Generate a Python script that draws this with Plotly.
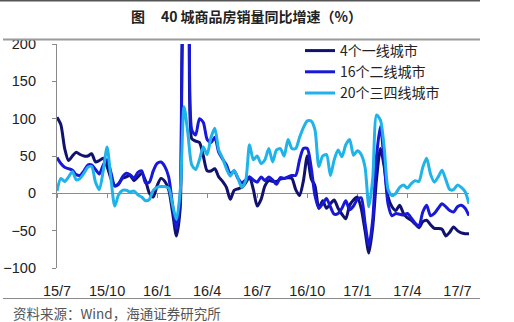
import plotly.graph_objects as go

# Weekly year-on-year growth (%), 2015/7 - 2017/8
tier1 = [102, 92, 60, 44, 50, 55, 52, 50, 50, 53, 42, 44, 47, 36, 20, 10, 13, 20, 22, 24,
         17, 22, 27, 17, 0, -5, 10, 20, 16, 5, -25, -57, -20, 250, 260, 73, 70, 68, 50, 30,
         30, 33, 22, 16, 8, -8, 4, 6, 8, 14, 22, 5, -17, -8, 10, 17, 16, 16, 19, 20,
         21, 20, 5, -3, 17, 50, 20, 10, -20, -10, -20, -14, -9, -20, -28, -34, -16, -9, -5, -20,
         -50, -80, -45, 20, 60, 35, -5, -18, -23, -16, -27, -33, -36, -41, -46, -38, -36, -42, -47, -47,
         -48, -57, -52, -45, -50, -53, -54, -54]
tier2 = [48, 40, 35, 33, 31, 25, 24, 30, 38, 38, 32, 26, 38, 45, 28, 10, 12, 22, 27, 25,
         20, 28, 30, 14, 15, 30, 40, 42, 36, 22, -15, -47, -3, 300, 320, 85, 78, 100, 95, 72,
         68, 75, 55, 46, 38, 26, 30, 20, 14, 18, 22, 18, 15, 22, 17, 22, 18, 12, 21, 20,
         22, 24, 24, 45, 60, 60, 35, -3, -20, -14, -7, -18, -28, -27, -20, -10, -22, -17, -8, -6,
         -40, -70, -35, 50, 90, 40, -15, -30, -27, -28, -29, -27, -33, -40, -44, -25, -16, -30, -27, -20,
         -14, -18, -23, -25, -18, -16, -20, -30]
tier34 = [3, 20, 16, 22, 29, 18, 20, 27, 35, 36, 15, 5, 30, 62, 20, -17, -2, 4, 4, 2,
          3, -2, -5, -10, -8, 4, 8, 9, 9, 7, -15, -35, 2, 116, 80, 38, 32, 45, 62, 52,
          75, 87, 58, 47, 33, 23, 31, 20, 8, 17, 65, 45, 50, 40, 45, 60, 42, 58, 60, 50,
          72, 60, 60, 75, 88, 97, 97, 85, 36, 50, 52, 24, 45, 58, 49, 65, 72, 51, 57, 52,
          35, -18, 20, 105, 98, 60, 5, -3, 0, 8, 11, 7, 13, 17, 16, 35, 47, 26, 15, 22,
          31, 18, 5, 5, 11, 8, 2, -14]
weeks = list(range(len(tier1)))
tick_weeks = [0, 13, 26, 39, 52, 65, 78, 91, 104]
tick_labels = ["15/7", "15/10", "16/1", "16/4", "16/7", "16/10", "17/1", "17/4", "17/7"]
names = ["4个一线城市", "16个二线城市", "20个三四线城市"]
colors = ["#11116e", "#1818d8", "#1fb3ea"]

FONT = "Liberation Sans, Arial, Noto Sans CJK SC"
CJK = "Noto Sans CJK SC, Liberation Sans"

fig = go.Figure()
for i, (vals, name) in enumerate(zip([tier1, tier2, tier34], names)):
    fig.add_trace(go.Scatter(
        x=weeks, y=vals, name=name, mode="lines",
        xaxis="x2" if i == 2 else "x",
        line=dict(color=colors[i], width=3, shape="spline", smoothing=0.7),
    ))

L, R, T, B = 57, 45, 44, 54
W, H = 514, 322
pw, ph = W - L - R, H - T - B
def px(x):
    return (x - L) / pw
def py(y):
    return (H - B - y) / ph

fig.update_layout(
    width=W, height=H,
    margin=dict(l=L, r=R, t=T, b=B, autoexpand=False),
    paper_bgcolor="white", plot_bgcolor="white",
    showlegend=True,
    legend=dict(x=px(300), y=py(35), xanchor="left", yanchor="top",
                font=dict(family=CJK, size=14, color="#222"),
                bgcolor="rgba(0,0,0,0)", itemwidth=30, tracegroupgap=0),
    xaxis=dict(range=[0, len(weeks) - 1], tickvals=tick_weeks, ticktext=tick_labels,
               showgrid=False, zeroline=False, showline=False, ticks="", automargin=False,
               tickfont=dict(family=FONT, size=14.5, color="#222"),
               ticklabelstandoff=12),
    xaxis2=dict(range=[0, len(weeks) - 1], overlaying="x", anchor="free", position=1/3,
                tickvals=tick_weeks, showticklabels=False, showgrid=False, zeroline=False,
                showline=True, linecolor="#8a8a8a", linewidth=1.2, automargin=False,
                ticks="outside", ticklen=4, tickcolor="#8a8a8a", layer="below traces"),
    yaxis=dict(range=[-100, 200], tickvals=[-100, -50, 0, 50, 100, 150, 200],
               showgrid=False, zeroline=False, showline=True, linecolor="#8a8a8a",
               linewidth=1.2, ticks="outside", ticklen=4, tickcolor="#8a8a8a", automargin=False,
               tickfont=dict(family=FONT, size=14.5, color="#222"),
               ticklabelstandoff=13),
)

shapes = [
    dict(type="line", xref="paper", yref="paper", x0=px(0), x1=px(480), y0=py(0.8), y1=py(0.8),
         line=dict(color="#555", width=1.6)),
    dict(type="line", xref="paper", yref="paper", x0=px(3), x1=px(480), y0=py(39.5), y1=py(39.5),
         line=dict(color="#9a9a9a", width=2)),
    dict(type="line", xref="paper", yref="paper", x0=px(3), x1=px(480), y0=py(298.5), y1=py(298.5),
         line=dict(color="#8a8a8a", width=1.2)),
]
fig.update_layout(shapes=shapes)

fig.add_annotation(text="<b>图&nbsp;&nbsp;&nbsp;&nbsp;&nbsp;40 城商品房销量同比增速（%）</b>",
                   xref="paper", yref="paper",
                   x=px(246), y=py(16), xanchor="center", yanchor="middle", showarrow=False,
                   font=dict(family=CJK, size=14, color="#222"))
fig.add_annotation(text="资料来源：Wind，海通证券研究所", xref="paper", yref="paper",
                   x=px(11), y=py(313), xanchor="left", yanchor="middle", showarrow=False,
                   font=dict(family=CJK, size=13.5, color="#555"))

fig.write_html("out.html")
